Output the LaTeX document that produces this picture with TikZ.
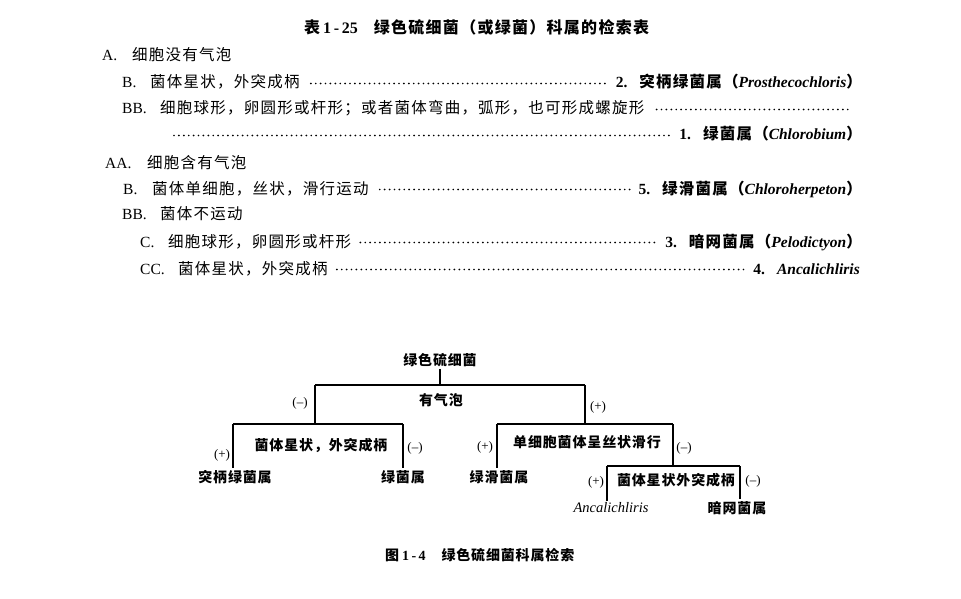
\documentclass[tikz,border=0pt]{standalone}
\usepackage{fontspec}
\setmainfont{Liberation Serif}
\newfontfamily\cjk[LetterSpace=8]{Noto Sans CJK SC}
\newfontfamily\cjkt[LetterSpace=6]{Noto Sans CJK SC}
\newcommand\zh[1]{{\cjk #1}}
\newcommand\zt[1]{{\cjkt #1}}
\usetikzlibrary{calc}
\begin{document}
\begin{tikzpicture}[x=1pt,y=-1pt,
  lt/.style={anchor=base west,inner sep=0pt,font=\fontsize{15.5}{17}\selectfont},
  rt/.style={anchor=base east,inner sep=0pt,font=\fontsize{15.5}{17}\selectfont\bfseries},
  leader/.style={line width=1.9pt,line cap=round,dash pattern=on 0pt off 4.9pt},
  tn/.style={inner sep=2pt,font=\fontsize{14}{16}\selectfont\bfseries},
  sg/.style={inner sep=0pt,font=\fontsize{13}{15}\selectfont},
  br/.style={line width=1.1pt}]
\fill[white] (0,0) rectangle (961,599);
\useasboundingbox (0,0) rectangle (961,599);

% title
\node[anchor=base west,inner sep=0pt,font=\fontsize{16}{18}\selectfont\bfseries] (title) at (304,34)
  {\zh{表}\hspace{3pt}1\,-\,25\hspace{16pt}\zh{绿色硫细菌（或绿菌）科属的检索表}};

% line A
\node[lt] (la) at (102,61) {A.};
\node[lt] (ta) at (132,61) {\zh{细胞没有气泡}};
% line B
\node[lt] (lb) at (122,88) {B.};
\node[lt] (tb) at (150,88) {\zh{菌体星状，外突成柄}};
\node[rt] (rb) at (862,88) {2.\hspace{12pt}\zh{突柄绿菌属（}\textit{Prosthecochloris}\zh{）}};
\draw[leader] ([xshift=11pt,yshift=4.5pt]tb.base east) -- ([xshift=-8pt,yshift=4.5pt]rb.base west);
% line BB
\node[lt] (lbb) at (122,114) {BB.};
\node[lt] (tbb) at (160,114) {\zh{细胞球形，卵圆形或杆形；或者菌体弯曲，弧形，也可形成螺旋形}};
\coordinate (ebb) at (849,109.5);
\draw[leader] ([xshift=12pt,yshift=4.5pt]tbb.base east) -- (ebb);
% continuation
\coordinate (sc) at (174,135.5);
\node[rt] (rc) at (862,140) {1.\hspace{12pt}\zh{绿菌属（}\textit{Chlorobium}\zh{）}};
\draw[leader] (sc) -- ([xshift=-8pt,yshift=4.5pt]rc.base west);
% line AA
\node[lt] (laa) at (105,168) {AA.};
\node[lt] (taa) at (147,168) {\zh{细胞含有气泡}};
% line B (2)
\node[lt] (lb2) at (123,194) {B.};
\node[lt] (tb2) at (152,194) {\zh{菌体单细胞，丝状，滑行运动}};
\node[rt] (rb2) at (862,194) {5.\hspace{12pt}\zh{绿滑菌属（}\textit{Chloroherpeton}\zh{）}};
\draw[leader] ([xshift=11pt,yshift=4.5pt]tb2.base east) -- ([xshift=-8pt,yshift=4.5pt]rb2.base west);
% line BB (2)
\node[lt] (lbb2) at (122,219) {BB.};
\node[lt] (tbb2) at (160,219) {\zh{菌体不运动}};
% line C
\node[lt] (lc) at (140,247) {C.};
\node[lt] (tc) at (168,247) {\zh{细胞球形，卵圆形或杆形}};
\node[rt] (rc2) at (862,247) {3.\hspace{12pt}\zh{暗网菌属（}\textit{Pelodictyon}\zh{）}};
\draw[leader] ([xshift=9pt,yshift=4.5pt]tc.base east) -- ([xshift=-8pt,yshift=4.5pt]rc2.base west);
% line CC
\node[lt] (lcc) at (140,274) {CC.};
\node[lt] (tcc) at (178,274) {\zh{菌体星状，外突成柄}};
\node[rt] (rcc) at (860,274) {4.\hspace{12pt}\textit{Ancalichliris}};
\draw[leader] ([xshift=9pt,yshift=4.5pt]tcc.base east) -- ([xshift=-9pt,yshift=4.5pt]rcc.base west);

% ---------- tree ----------
\node[tn] (root) at (440,360) {\zt{绿色硫细菌}};
\coordinate (j0) at (440,385);
\coordinate (jl) at (315,385);
\coordinate (jr) at (585,385);
\node[tn] (q1) at (441,400) {\zt{有气泡}};
\node[sg] (m1) at (300,403) {(–)};
\node[sg] (p1) at (598,407) {(+)};

\coordinate (l0) at (315,424);
\coordinate (ll) at (233,424);
\coordinate (lr) at (403,424);
\node[tn] (q2) at (321,445) {\zt{菌体星状，外突成柄}};
\node[sg] (p2) at (222,455) {(+)};
\node[sg] (m2) at (415,448) {(–)};
\node[tn] (g2) at (235,477) {\zt{突柄绿菌属}};
\node[tn] (g1) at (403,477) {\zt{绿菌属}};

\coordinate (r0) at (585,424);
\coordinate (rl) at (497,424);
\coordinate (rr) at (673,424);
\node[tn] (q3) at (587,442) {\zt{单细胞菌体呈丝状滑行}};
\node[sg] (p3) at (485,447) {(+)};
\node[sg] (m3) at (684,448) {(–)};
\node[tn] (g5) at (499,477) {\zt{绿滑菌属}};

\coordinate (s0) at (673,466);
\coordinate (sl) at (607,466);
\coordinate (sr) at (740,466);
\node[tn] (q4) at (676,480) {\zt{菌体星状外突成柄}};
\node[sg] (p4) at (596,482) {(+)};
\node[sg] (m4) at (753,481) {(–)};
\node[tn,font=\fontsize{14.5}{16}\selectfont\itshape] (g4) at (611,508) {Ancalichliris};
\node[tn] (g3) at (737,508) {\zt{暗网菌属}};

\draw[br] (root.south) -- (j0);
\draw[br] (jl) -- (jr);
\draw[br] (jl) -- (l0);
\draw[br] (jr) -- (r0);
\draw[br] (ll) -- (lr);
\draw[br] (ll) -- (ll |- g2.north);
\draw[br] (lr) -- (lr |- g1.north);
\draw[br] (rl) -- (rr);
\draw[br] (rl) -- (rl |- g5.north);
\draw[br] (rr) -- (s0);
\draw[br] (sl) -- (sr);
\draw[br] (sl) -- (sl |- g4.north);
\draw[br] (sr) -- (sr |- g3.north);

% caption
\node[anchor=west,inner sep=0pt,font=\fontsize{14}{16}\selectfont\bfseries] (cap) at (385,555)
  {\zt{图}\hspace{3pt}1\,-\,4\hspace{16pt}\zt{绿色硫细菌科属检索}};
\end{tikzpicture}
\end{document}
